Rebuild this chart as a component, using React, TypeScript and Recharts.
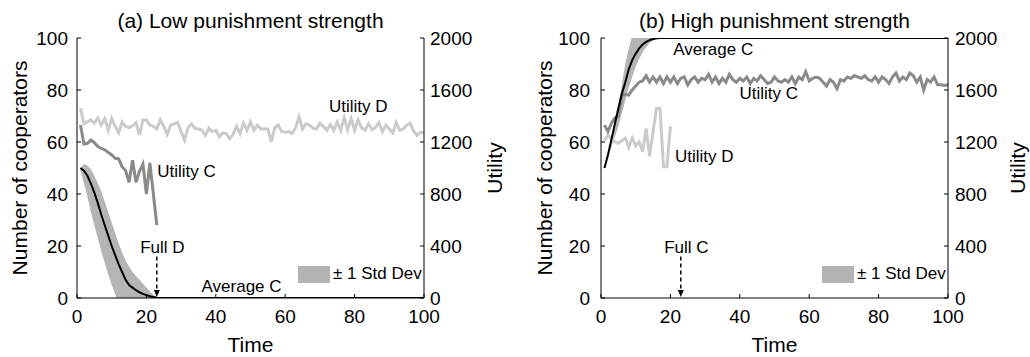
import React from 'react';
import {
  ComposedChart, Line, Area, XAxis, YAxis, ReferenceLine, ReferenceDot, Legend,
} from 'recharts';

const H = 357;
const FONT = '"Liberation Sans", Arial, Helvetica, sans-serif';

// time steps 1..100
const time: number[] = Array.from({ length: 100 }, (_, i) => i + 1);

const xTicks = [0, 20, 40, 60, 80, 100];
const coopTicks = [0, 20, 40, 60, 80, 100];
const utilTicks = [0, 400, 800, 1200, 1600, 2000];

// (a) low punishment strength
const avgLow = [
  50, 49, 47, 44, 40.5, 36.5, 32, 28, 24, 20,
  16.5, 13, 10, 7, 5, 4, 3, 2.2, 1.6, 1.1,
  0.7, 0.4, 0.1, 0, 0, 0, 0, 0, 0, 0,
  0, 0, 0, 0, 0, 0, 0, 0, 0, 0,
  0, 0, 0, 0, 0, 0, 0, 0, 0, 0,
  0, 0, 0, 0, 0, 0, 0, 0, 0, 0,
  0, 0, 0, 0, 0, 0, 0, 0, 0, 0,
  0, 0, 0, 0, 0, 0, 0, 0, 0, 0,
  0, 0, 0, 0, 0, 0, 0, 0, 0, 0,
  0, 0, 0, 0, 0, 0, 0, 0, 0, 0,
];
const bandLowA = [
  49, 44, 39, 33, 28, 23, 18, 13.5, 9, 5,
  1.5, -2, -4, -5, -5, -4, -3, -2.5, -2, -1.5,
  -1, -0.5, 0,
];
const bandHighA = [
  50, 51.5, 51, 49.5, 47, 44, 41, 37, 33, 29,
  25, 21, 17.5, 14.5, 12, 10, 8.5, 7, 5.5, 4,
  2.5, 1.2, 0.4,
];
const utilCLow = [
  1330, 1185, 1190, 1215, 1195, 1165, 1150, 1140, 1120, 1100,
  1075, 1070, 1010, 980, 890, 1060, 890, 975, 1030, 800,
  1040, 800, 560,
];
const utilDLow = [
  1460, 1340, 1355, 1370, 1345, 1385, 1330, 1380, 1290, 1380,
  1320, 1270, 1355, 1320, 1310, 1325, 1350, 1255, 1370, 1370,
  1330, 1320, 1300, 1370, 1320, 1260, 1330, 1340, 1350, 1280,
  1215, 1310, 1340, 1305, 1300, 1290, 1250, 1305, 1280, 1290,
  1240, 1270, 1265, 1225, 1260, 1320, 1265, 1345, 1290, 1355,
  1290, 1330, 1300, 1300, 1300, 1200, 1310, 1330, 1280, 1275,
  1280, 1265, 1310, 1395, 1300, 1340, 1330, 1305, 1300, 1345,
  1320, 1290, 1335, 1290, 1355, 1290, 1385, 1295, 1380, 1290,
  1370, 1310, 1290, 1340, 1295, 1310, 1350, 1280, 1330, 1300,
  1270, 1350, 1290, 1300, 1330, 1345, 1285, 1250, 1275, 1270,
];

// (b) high punishment strength
const avgHigh = [
  50, 55, 61, 67, 73, 78.5, 83, 88, 91.5, 94,
  96, 97.5, 98.5, 99.2, 99.6, 99.9, 100, 100, 100, 100,
  100, 100, 100, 100, 100, 100, 100, 100, 100, 100,
  100, 100, 100, 100, 100, 100, 100, 100, 100, 100,
  100, 100, 100, 100, 100, 100, 100, 100, 100, 100,
  100, 100, 100, 100, 100, 100, 100, 100, 100, 100,
  100, 100, 100, 100, 100, 100, 100, 100, 100, 100,
  100, 100, 100, 100, 100, 100, 100, 100, 100, 100,
  100, 100, 100, 100, 100, 100, 100, 100, 100, 100,
  100, 100, 100, 100, 100, 100, 100, 100, 100, 100,
];
const bandLowB = [
  50, 54, 58, 62, 66, 71, 76, 81, 85, 89,
  92, 94.5, 96.5, 98, 99, 99.5, 100,
];
const bandHighB = [
  50, 56, 61, 67, 74, 82, 90, 96, 101, 104,
  105, 105, 104, 103, 102, 101, 100.5,
];
const utilCHigh = [
  1330, 1280, 1345, 1385, 1400, 1560, 1565, 1560, 1600, 1630,
  1660, 1670, 1710, 1660, 1700, 1660, 1700, 1650, 1700, 1660,
  1700, 1650, 1690, 1700, 1640, 1680, 1700, 1660, 1690, 1680,
  1720, 1660, 1700, 1650, 1690, 1660, 1720, 1680, 1660, 1690,
  1670, 1700, 1650, 1690, 1670, 1710, 1680, 1650, 1660, 1700,
  1670, 1660, 1680, 1660, 1700, 1650, 1700, 1680, 1740, 1670,
  1690, 1700, 1690, 1660, 1630, 1680, 1660, 1610, 1680, 1670,
  1700, 1690, 1710, 1700, 1690, 1710, 1680, 1670, 1700, 1660,
  1700, 1680, 1650, 1700, 1730, 1670, 1700, 1680, 1730, 1710,
  1660, 1700, 1600, 1680, 1660, 1700, 1640, 1640, 1635, 1640,
];
const utilDHigh = [
  1210, 1250, 1230, 1200, 1190, 1210, 1230, 1160, 1230, 1170,
  1200, 1125, 1305, 1090, 1280, 1460, 1460, 1010, 1010, 1320,
];

interface Row {
  time: number;
  avg: number;
  band: [number, number] | null;
  utilC: number | null;
  utilD: number | null;
}

const buildRows = (
  avg: number[], low: number[], high: number[], utilC: number[], utilD: number[],
): Row[] => time.map((t, i) => ({
  time: t,
  avg: avg[i],
  band: low[i] === undefined ? null : [low[i], high[i]],
  utilC: utilC[i] ?? null,
  utilD: utilD[i] ?? null,
}));

const rowsLow = buildRows(avgLow, bandLowA, bandHighA, utilCLow, utilDLow);
const rowsHigh = buildRows(avgHigh, bandLowB, bandHighB, utilCHigh, utilDHigh);

interface Note { text: string, x: number, y: number }

const notesLow: Note[] = [
  { text: 'Utility D', x: 72.6, y: 71.7 },
  { text: 'Utility C', x: 23.1, y: 46.7 },
  { text: 'Full D', x: 18.2, y: 17.2 },
  { text: 'Average C', x: 35.9, y: 2.2 },
];
const notesHigh: Note[] = [
  { text: 'Average C', x: 20.8, y: 93.5 },
  { text: 'Utility C', x: 39.9, y: 76.4 },
  { text: 'Utility D', x: 21.3, y: 52.2 },
  { text: 'Full C', x: 18.2, y: 17.2 },
];

const ARROW_T = 23;

interface PanelProps {
  title: string,
  rows: Row[],
  width: number,
  leftW: number,
  rightW: number,
  leftGap: number,
  rightGap: number,
  leftLabelOffset: number,
  rightLabelOffset: number,
  notes: Note[],
}

const Panel = (p: PanelProps): React.ReactElement => {
  const plotW = p.width - p.leftW - p.rightW;
  return (
    <div style={{ position: 'relative', width: p.width, height: H }}>
      <div style={{
        position: 'absolute', left: p.leftW, top: 10, width: plotW, textAlign: 'center',
        fontSize: 21, lineHeight: '21px', whiteSpace: 'nowrap', color: '#000',
      }}>
        {p.title}
      </div>
      <ComposedChart
        width={p.width}
        height={H}
        data={p.rows}
        margin={{ top: 38, right: 0, bottom: 0, left: 0 }}
      >
        <XAxis
          dataKey="time" type="number" domain={[0, 100]} ticks={xTicks} interval={0}
          height={59} tickSize={-4} tickMargin={16} stroke="#000"
          tick={{ fill: '#000', fontSize: 19 }}
          label={{ value: 'Time', position: 'insideBottom', offset: 5, style: { fill: '#000', fontSize: 21 } }}
        />
        <XAxis
          xAxisId="top" dataKey="time" orientation="top" type="number" domain={[0, 100]}
          ticks={xTicks} interval={0} height={0} tickSize={-4} tick={false} stroke="#000"
        />
        <YAxis
          yAxisId="left" type="number" domain={[0, 100]} allowDataOverflow ticks={coopTicks}
          interval={0} width={p.leftW} tickSize={-4} tickMargin={4 + p.leftGap} stroke="#000"
          tick={{ fill: '#000', fontSize: 19 }}
          label={{
            value: 'Number of cooperators', angle: -90, position: 'insideLeft', offset: p.leftLabelOffset,
            style: { textAnchor: 'middle', fill: '#000', fontSize: 21 },
          }}
        />
        <YAxis
          yAxisId="right" orientation="right" type="number" domain={[0, 2000]} allowDataOverflow
          ticks={utilTicks} interval={0} width={p.rightW} tickSize={-4} tickMargin={4 + p.rightGap}
          stroke="#000" tick={{ fill: '#000', fontSize: 19 }}
          label={{
            value: 'Utility', angle: -90, position: 'insideRight', offset: p.rightLabelOffset,
            style: { textAnchor: 'middle', fill: '#000', fontSize: 21 },
          }}
        />

        <Area
          yAxisId="left" dataKey="band" name="± 1 Std Dev" stroke="none" fill="#b5b5b5"
          fillOpacity={1} isAnimationActive={false}
        />
        <Line
          yAxisId="right" dataKey="utilD" name="Utility D" stroke="#cbcbcb" strokeWidth={3}
          dot={false} activeDot={false} isAnimationActive={false}
        />
        <Line
          yAxisId="right" dataKey="utilC" name="Utility C" stroke="#8a8a8a" strokeWidth={3}
          dot={false} activeDot={false} isAnimationActive={false}
        />
        <Line
          yAxisId="left" dataKey="avg" name="Average C" stroke="#000" strokeWidth={2}
          dot={false} activeDot={false} isAnimationActive={false}
        />

        <ReferenceLine
          yAxisId="left"
          segment={[{ x: ARROW_T, y: 16 }, { x: ARROW_T, y: 2 }]}
          stroke="#000" strokeWidth={1.5} strokeDasharray="4 3"
        />
        <ReferenceDot
          yAxisId="left" x={ARROW_T} y={0} r={0}
          shape={(s: any) => (
            <polygon
              points={`${s.cx - 3},${s.cy - 8} ${s.cx + 3},${s.cy - 8} ${s.cx},${s.cy - 1}`}
              fill="#000"
            />
          )}
        />
        {p.notes.map((n) => (
          <ReferenceDot
            key={n.text}
            yAxisId="left" x={n.x} y={n.y} r={0}
            shape={(s: any) => (
              <text x={s.cx} y={s.cy} fontSize={17} fill="#000">{n.text}</text>
            )}
          />
        ))}

        <Legend
          verticalAlign="middle" align="center" layout="horizontal"
          wrapperStyle={{ left: p.leftW + plotW * 0.637, top: 264, width: 140 }}
          content={() => (
            <div style={{ display: 'flex', alignItems: 'center', fontSize: 17, color: '#000' }}>
              <span style={{ display: 'inline-block', width: 32, height: 17, background: '#b3b3b3' }} />
              <span style={{ marginLeft: 3 }}>± 1 Std Dev</span>
            </div>
          )}
        />
      </ComposedChart>
    </div>
  );
};

export default (): React.ReactElement => (
  <div style={{ position: 'absolute', left: 0, top: 0, display: 'flex', fontFamily: FONT, background: '#fff' }}>
    <Panel
      title="(a) Low punishment strength" rows={rowsLow} width={510}
      leftW={77} rightW={86} leftGap={9} rightGap={6}
      leftLabelOffset={20} rightLabelOffset={15} notes={notesLow}
    />
    <Panel
      title="(b) High punishment strength" rows={rowsHigh} width={520}
      leftW={91} rightW={82} leftGap={11} rightGap={7}
      leftLabelOffset={35} rightLabelOffset={12} notes={notesHigh}
    />
  </div>
);
